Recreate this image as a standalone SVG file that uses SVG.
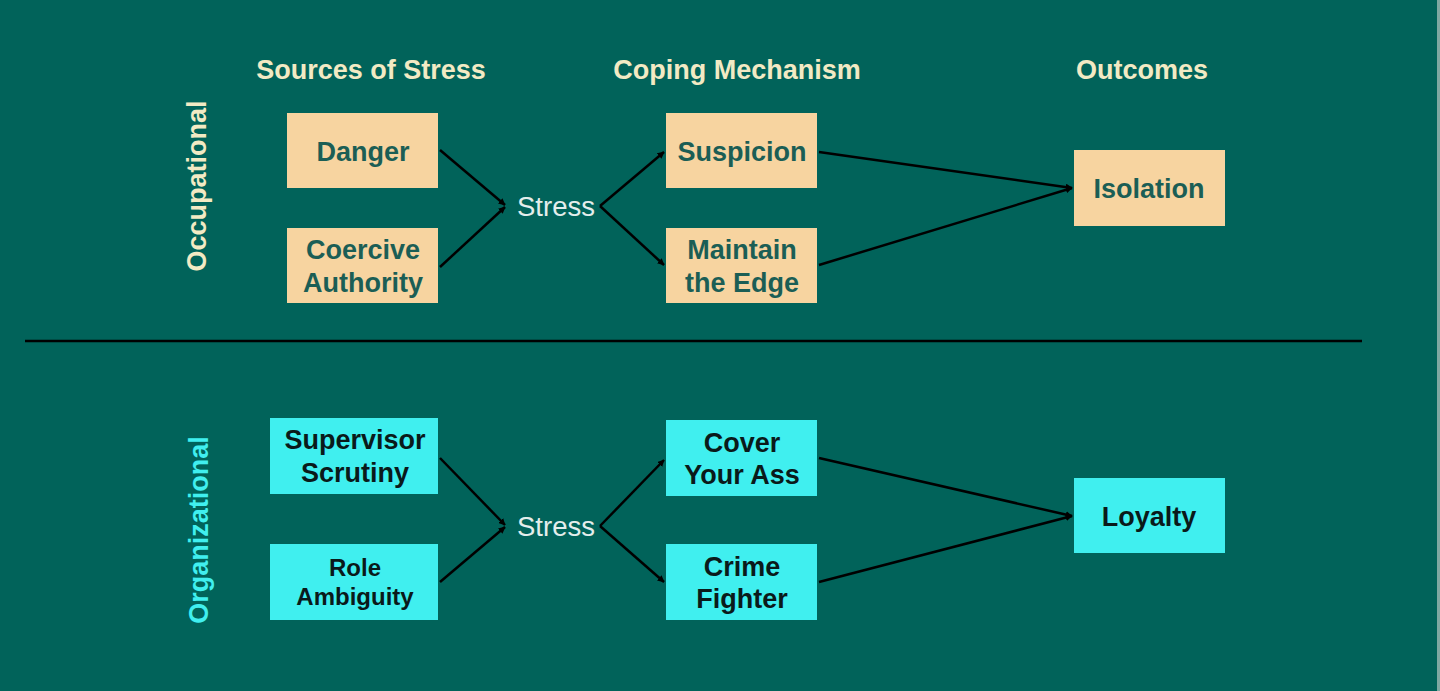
<svg xmlns="http://www.w3.org/2000/svg" width="1440" height="691" viewBox="0 0 1440 691">
<defs>
<style>
.hdr{font-family:"Liberation Sans",Arial,sans-serif;font-weight:bold;font-size:27px;fill:#F2EAC4;text-anchor:middle}
.tan{fill:#F7D4A0}
.cyan{fill:#40EFEF}
.tt{font-family:"Liberation Sans",Arial,sans-serif;font-weight:bold;font-size:27px;fill:#1B5E55;text-anchor:middle}
.ct{font-family:"Liberation Sans",Arial,sans-serif;font-weight:bold;font-size:27px;fill:#0A1A1A;text-anchor:middle}
.st{font-family:"Liberation Sans",Arial,sans-serif;font-size:27.5px;fill:#E4EEEC;text-anchor:middle}
.conn line{stroke:#000;stroke-width:2.5;marker-end:url(#ah)}
</style>
<marker id="ah" viewBox="0 0 10 10" refX="9" refY="5" markerWidth="7" markerHeight="7" markerUnits="userSpaceOnUse" orient="auto">
<path d="M0,0 L10,5 L0,10 z" fill="#000"/>
</marker>
</defs>
<rect x="0" y="0" width="1440" height="691" fill="#01635A"/>
<rect x="1437" y="0" width="3" height="691" fill="#7FA8A2"/>

<g id="headers">
<text class="hdr" x="371" y="79">Sources of Stress</text>
<text class="hdr" x="737" y="79">Coping Mechanism</text>
<text class="hdr" x="1142" y="79">Outcomes</text>
</g>

<g id="label-occupational">
<text class="hdr" transform="translate(206,186) rotate(-90)" x="0" y="0">Occupational</text>
</g>
<g id="label-organizational">
<text class="hdr" style="fill:#40EFEF" transform="translate(208,530) rotate(-90)" x="0" y="0">Organizational</text>
</g>

<line id="separator" x1="25" y1="341" x2="1362" y2="341" stroke="#000" stroke-width="2.5"/>

<g id="connectors" class="conn">
<line x1="440" y1="150" x2="505" y2="205"/>
<line x1="440" y1="267" x2="505" y2="207"/>
<line x1="600" y1="206" x2="664" y2="152"/>
<line x1="600" y1="206" x2="664" y2="265"/>
<line x1="819" y1="152" x2="1072" y2="188"/>
<line x1="819" y1="265" x2="1072" y2="188"/>
<line x1="440" y1="458" x2="505" y2="525"/>
<line x1="440" y1="582" x2="505" y2="527"/>
<line x1="600" y1="526" x2="664" y2="460"/>
<line x1="600" y1="526" x2="664" y2="582"/>
<line x1="819" y1="458" x2="1072" y2="516"/>
<line x1="819" y1="582" x2="1072" y2="516"/>
</g>

<g id="danger"><rect class="tan" x="287" y="113" width="151" height="75"/><text class="tt" x="363" y="161">Danger</text></g>
<g id="coercive"><rect class="tan" x="287" y="228" width="151" height="75"/><text class="tt" x="363" y="259">Coercive</text><text class="tt" x="363" y="292">Authority</text></g>
<g id="stress-top"><text class="st" x="556" y="216">Stress</text></g>
<g id="suspicion"><rect class="tan" x="666" y="113" width="151" height="75"/><text class="tt" x="742" y="161">Suspicion</text></g>
<g id="maintain"><rect class="tan" x="666" y="228" width="151" height="75"/><text class="tt" x="742" y="259">Maintain</text><text class="tt" x="742" y="292">the Edge</text></g>
<g id="isolation"><rect class="tan" x="1074" y="150" width="151" height="76"/><text class="tt" x="1149" y="198">Isolation</text></g>

<g id="supervisor"><rect class="cyan" x="270" y="418" width="168" height="76"/><text class="ct" x="355" y="449">Supervisor</text><text class="ct" x="355" y="482">Scrutiny</text></g>
<g id="role"><rect class="cyan" x="270" y="544" width="168" height="76"/><text class="ct" style="font-size:24px" x="355" y="576">Role</text><text class="ct" style="font-size:24px" x="355" y="605">Ambiguity</text></g>
<g id="stress-bottom"><text class="st" x="556" y="536">Stress</text></g>
<g id="cover"><rect class="cyan" x="666" y="420" width="151" height="76"/><text class="ct" x="742" y="452">Cover</text><text class="ct" x="742" y="484">Your Ass</text></g>
<g id="crime"><rect class="cyan" x="666" y="544" width="151" height="76"/><text class="ct" x="742" y="576">Crime</text><text class="ct" x="742" y="608">Fighter</text></g>
<g id="loyalty"><rect class="cyan" x="1074" y="478" width="151" height="75"/><text class="ct" x="1149" y="526">Loyalty</text></g>
</svg>
